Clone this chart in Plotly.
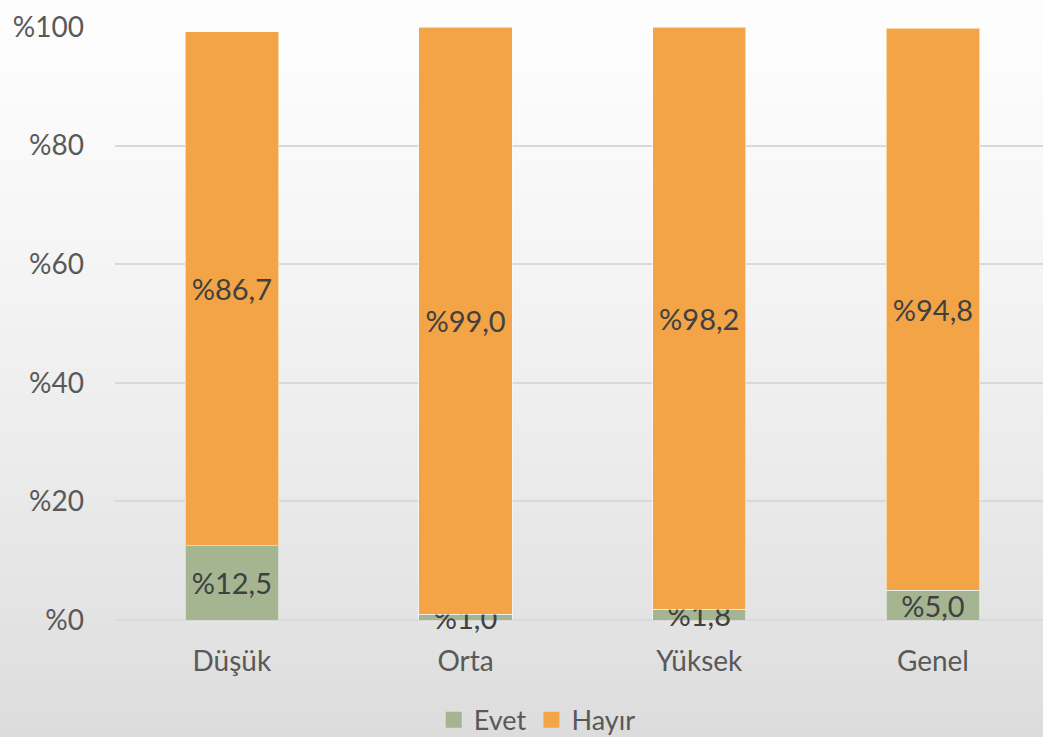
import plotly.graph_objects as go

categories = ["Düşük", "Orta", "Yüksek", "Genel"]
evet = [12.5, 1.0, 1.8, 5.0]
hayir = [86.7, 99.0, 98.2, 94.8]
y_ticks = [0, 20, 40, 60, 80, 100]
y_tick_labels = ["%0", "%20", "%40", "%60", "%80", "%100"]

def fmt(v):
    return "%" + f"{v:.1f}".replace(".", ",")

FONT = "Lato, 'Open Sans', sans-serif"
GREEN = "#A5B592"
ORANGE = "#F2A447"

fig = go.Figure()
for name, vals, col in [("Evet", evet, GREEN), ("Hayır", hayir, ORANGE)]:
    fig.add_trace(go.Bar(
        name=name, x=categories, y=vals, showlegend=False,
        marker=dict(color=col, line=dict(color="rgba(255,255,255,0.55)", width=1)),
        text=[fmt(v) for v in vals], textposition="inside", insidetextanchor="middle",
        textangle=0, constraintext="none", cliponaxis=False,
        textfont=dict(size=29, color="#404040", family=FONT),
        width=0.4,
    ))
# legend entries with larger square symbols
for name, col in [("Evet", GREEN), ("Hayır", ORANGE)]:
    fig.add_trace(go.Scatter(
        name=name, x=[None], y=[None], mode="markers",
        marker=dict(symbol="square", size=18, color=col),
    ))

# background gradient
shapes = []
n = 60
top, bottom = 1.05, -0.25
for i in range(n):
    t = i / (n - 1)
    g = round(253 - (253 - 219) * (t ** 1.3))
    span = top - bottom
    shapes.append(dict(
        type="rect", xref="paper", yref="paper",
        x0=-0.2, x1=1.1,
        y0=top - (i + 1) * span / n, y1=top - i * span / n + 0.002,
        fillcolor=f"rgb({g},{g},{g})", line=dict(width=0), layer="below",
    ))

fig.update_layout(
    width=1043, height=737,
    barmode="stack",
    margin=dict(l=115, r=0, t=27, b=117, autoexpand=False),
    paper_bgcolor="rgb(236,236,236)",
    plot_bgcolor="rgba(0,0,0,0)",
    shapes=shapes,
    font=dict(family=FONT, color="#595959"),
    showlegend=True,
    legend=dict(
        orientation="h", x=0.455, xanchor="center", y=-0.169, yanchor="middle",
        font=dict(size=27, color="#595959", family=FONT),
        bgcolor="rgba(0,0,0,0)", traceorder="normal",
    ),
    xaxis=dict(
        range=[-0.5, 3.471], showgrid=False, showline=False, ticks="",
        ticklabelstandoff=22,
        tickfont=dict(size=28, color="#595959", family=FONT),
    ),
    yaxis=dict(
        range=[0, 100], tickvals=y_ticks, ticktext=y_tick_labels,
        showgrid=True, gridcolor="#D9D9D9", gridwidth=1.5,
        zeroline=True, zerolinecolor="#D9D9D9", zerolinewidth=1.5,
        showline=False, ticks="", ticklabelstandoff=30,
        tickfont=dict(size=28, color="#595959", family=FONT),
    ),
)

fig.write_html(
    "out.html",
    config={"displayModeBar": False},
    post_script="document.body.style.margin='0';document.body.style.overflow='hidden';",
)
